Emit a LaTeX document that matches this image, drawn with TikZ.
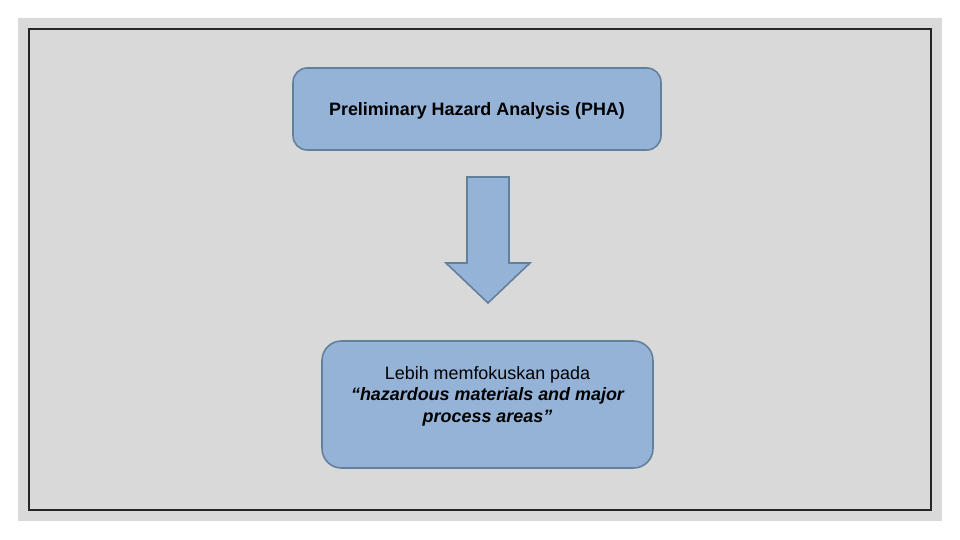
\documentclass[tikz,border=0pt]{standalone}
\usepackage{fontspec}
\setmainfont{Liberation Sans}
\usepackage{tikz}

\definecolor{slidegray}{HTML}{D9D9D9}
\definecolor{boxfill}{HTML}{95B3D7}
\definecolor{boxline}{HTML}{62809C}

\tikzset{
  stepbox/.style={draw=boxline, fill=boxfill, line width=0.9pt},
  steptext/.style={align=center, font=\fontsize{10.2}{12.2}\selectfont, inner sep=0pt},
}

\begin{document}
\begin{tikzpicture}[x=0.02cm, y=-0.02cm]
    \useasboundingbox (0,0) rectangle (960,540);
    \fill[slidegray] (18,18) rectangle (942,521);
    \draw[black!85, line width=0.6pt] (29,29) rectangle (931,510);

    \node[stepbox, rounded corners=8pt, minimum width=7.36cm, minimum height=1.64cm] (pha) at (477,109) {};
    \node[steptext] (phatext) at (477,111) {\bfseries Preliminary Hazard Analysis (PHA)};

    \node[stepbox, rounded corners=11pt, minimum width=6.62cm, minimum height=2.54cm] (fokus) at (487.5,404.5) {};
    \node[steptext] (fokustext) at (487.5,396)
      {Lebih memfokuskan pada\\ \bfseries\itshape ``hazardous materials and major\\ \bfseries\itshape process areas''};

    % block arrow between the two boxes
    \draw[draw=boxline, fill=boxfill, line width=0.9pt, line join=miter]
      (467,177) -- (509,177) -- (509,263) -- (530,263) -- (488,303)
      -- (446,263) -- (467,263) -- cycle;
  \end{tikzpicture}
\end{document}
